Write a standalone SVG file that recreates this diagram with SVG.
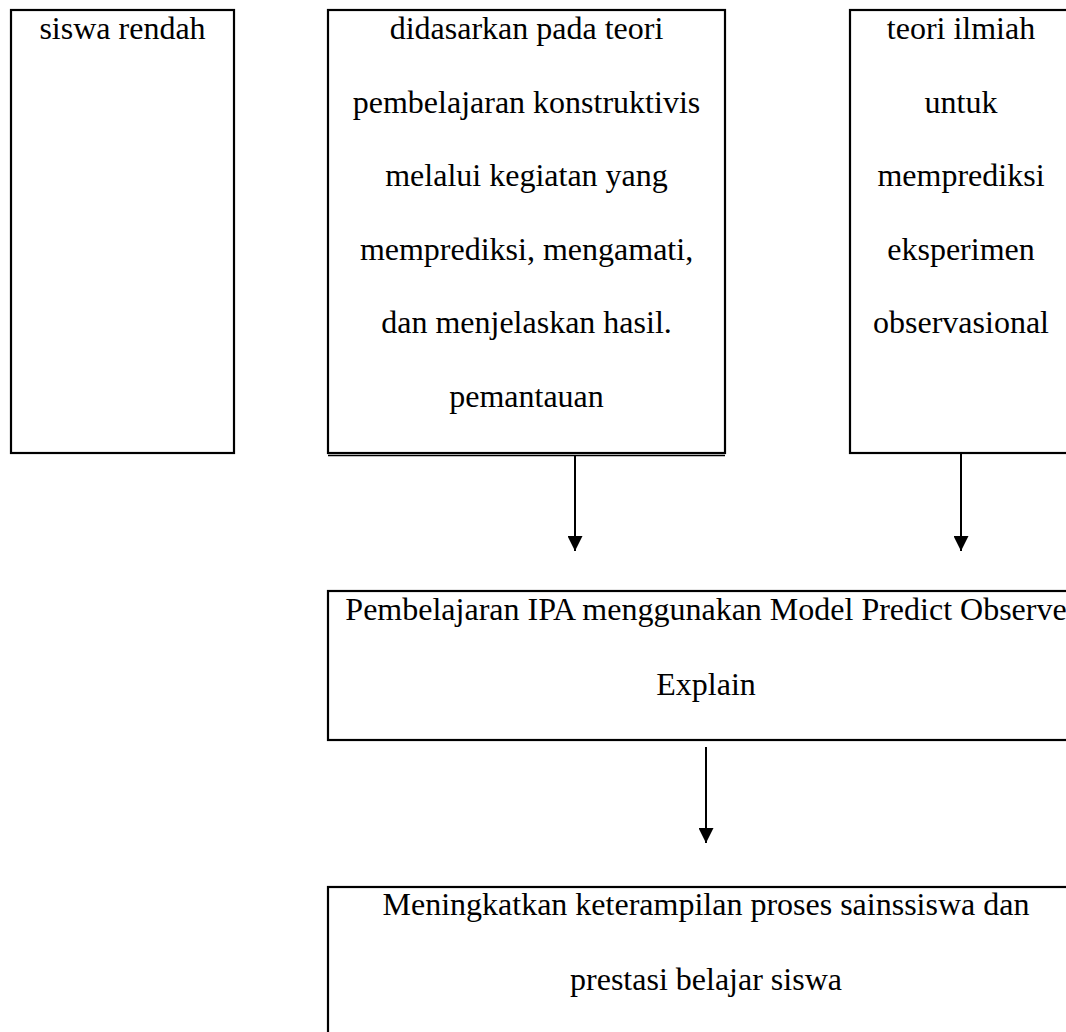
<svg xmlns="http://www.w3.org/2000/svg" width="1066" height="1032" viewBox="0 0 1066 1032">
<style>
.box{fill:#fff;stroke:#000;stroke-width:2.2}
.t{font-family:"Liberation Serif","Times New Roman",serif;font-size:32px;fill:#000;text-anchor:middle}
.c{stroke:#000;stroke-width:2;fill:none}
</style>
<defs>
<marker id="ah" markerWidth="15" markerHeight="15" refX="15" refY="7.5" orient="auto" markerUnits="userSpaceOnUse" viewBox="0 0 15 15">
<path d="M0,0 L15,7.5 L0,15 Z" fill="#000"/>
</marker>
</defs>
<rect width="1066" height="1032" fill="#fff"/>
<g id="node-siswa-rendah">
<rect class="box" x="11" y="10" width="223" height="443"/>
<text class="t" x="122.5" y="39">siswa rendah</text>
</g>
<g id="node-konstruktivis">
<rect class="box" x="328" y="10" width="397" height="443"/>
<line x1="328" y1="455.5" x2="725" y2="455.5" stroke="#000" stroke-width="1.3"/>
<text class="t" x="526.5" y="39">didasarkan pada teori</text>
<text class="t" x="526.5" y="112.5">pembelajaran konstruktivis</text>
<text class="t" x="526.5" y="186">melalui kegiatan yang</text>
<text class="t" x="526.5" y="259.5">memprediksi, mengamati,</text>
<text class="t" x="526.5" y="333">dan menjelaskan hasil.</text>
<text class="t" x="526.5" y="406.5">pemantauan</text>
</g>
<g id="node-teori-ilmiah">
<rect class="box" x="850" y="10" width="222" height="443"/>
<text class="t" x="961" y="39">teori ilmiah</text>
<text class="t" x="961" y="112.5">untuk</text>
<text class="t" x="961" y="186">memprediksi</text>
<text class="t" x="961" y="259.5">eksperimen</text>
<text class="t" x="961" y="333">observasional</text>
</g>
<g id="node-poe">
<rect class="box" x="328" y="591" width="756" height="149"/>
<text class="t" x="706" y="620">Pembelajaran IPA menggunakan Model Predict Observe</text>
<text class="t" x="706" y="695">Explain</text>
</g>
<g id="node-hasil">
<rect class="box" x="328" y="887" width="756" height="160"/>
<text class="t" x="706" y="915">Meningkatkan keterampilan proses sainssiswa dan</text>
<text class="t" x="706" y="990">prestasi belajar siswa</text>
</g>
<g id="connectors">
<line class="c" x1="575" y1="456" x2="575" y2="551" marker-end="url(#ah)"/>
<line class="c" x1="961" y1="454" x2="961" y2="551" marker-end="url(#ah)"/>
<line class="c" x1="706" y1="747" x2="706" y2="843" marker-end="url(#ah)"/>
</g>
</svg>
